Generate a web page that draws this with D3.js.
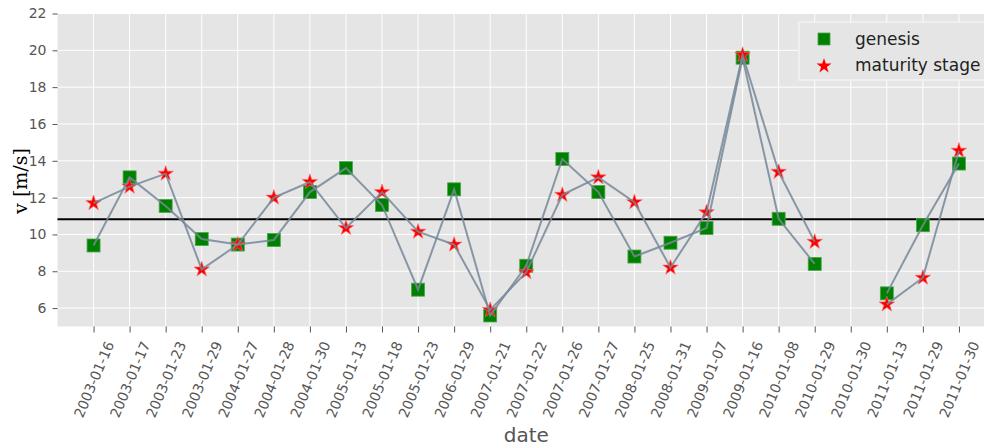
<!DOCTYPE html>
<html>
<head>
<meta charset="utf-8">
<script src="https://cdnjs.cloudflare.com/ajax/libs/d3/7.8.5/d3.min.js"></script>
<style>
  body { margin: 0; background: #fff; }
  text { font-family: "DejaVu Sans", sans-serif; }
</style>
</head>
<body>
<div class="chart"></div>
<script>
var dates = ["2003-01-16", "2003-01-17", "2003-01-23", "2003-01-29", "2004-01-27", "2004-01-28",
  "2004-01-30", "2005-01-13", "2005-01-18", "2005-01-23", "2006-01-29", "2007-01-21",
  "2007-01-22", "2007-01-26", "2007-01-27", "2008-01-25", "2008-01-31", "2009-01-07",
  "2009-01-16", "2010-01-08", "2010-01-29", "2010-01-30", "2011-01-13", "2011-01-29", "2011-01-30"];

var genesis = [9.4, 13.1, 11.55, 9.75, 9.45, 9.7, 12.3, 13.6, 11.6, 7.0, 12.45, 5.6,
  8.3, 14.1, 12.3, 8.8, 9.55, 10.35, 19.6, 10.85, 8.4, null, 6.8, 10.5, 13.85];

var maturity = [11.7, 12.6, 13.3, 8.1, 9.45, 12.0, 12.85, 10.35, 12.3, 10.15, 9.45, 5.9,
  7.95, 12.15, 13.1, 11.75, 8.2, 11.2, 19.75, 13.4, 9.6, null, 6.2, 7.65, 14.55];

var meanLine = 10.82;
var yTicks = [6, 8, 10, 12, 14, 16, 18, 20, 22];

var width = 984, height = 447;
var plot = {left: 57.5, right: 995, top: 13.5, bottom: 326.5};

var svg = d3.select(".chart")
    .append("svg")
    .attr("width", width)
    .attr("height", height);

var x = d3.scaleLinear().domain([-1, dates.length]).range([plot.left, plot.right]);
var y = d3.scaleLinear().domain([5, 22]).range([plot.bottom, plot.top]);

function points(series) {
  return series.map(function(v, i){return {i: i, v: v}})
    .filter(function(d){return d.v !== null});
}

// background
svg.append("rect")
  .attr("x", plot.left).attr("y", plot.top)
  .attr("width", plot.right - plot.left).attr("height", plot.bottom - plot.top)
  .attr("fill", "#e5e5e5");

// grid
svg.append("g").selectAll("line").data(yTicks).enter().append("line")
  .attr("x1", plot.left).attr("x2", plot.right)
  .attr("y1", function(d){return y(d)}).attr("y2", function(d){return y(d)})
  .attr("stroke", "#fff").attr("stroke-width", 1);

svg.append("g").selectAll("line").data(dates).enter().append("line")
  .attr("x1", function(d, i){return x(i)}).attr("x2", function(d, i){return x(i)})
  .attr("y1", plot.top).attr("y2", plot.bottom)
  .attr("stroke", "#fff").attr("stroke-width", 1);

// y axis
var yAxis = svg.append("g")
  .attr("transform", "translate(" + plot.left + ",0)")
  .call(d3.axisLeft(y).tickValues(yTicks).tickSize(5).tickPadding(6));
yAxis.select(".domain").remove();
yAxis.selectAll(".tick line").attr("stroke", "#555");
yAxis.selectAll("text").attr("fill", "#555").style("font-size", "14px")
  .style("font-family", "DejaVu Sans");

// x axis
var xAxis = svg.append("g")
  .attr("transform", "translate(0," + plot.bottom + ")")
  .call(d3.axisBottom(x).tickValues(d3.range(dates.length)).tickSize(6)
    .tickFormat(function(i){return dates[i]}));
xAxis.select(".domain").remove();
xAxis.selectAll(".tick line").attr("stroke", "#555");
xAxis.selectAll("text")
  .attr("fill", "#555").style("font-size", "14px").style("font-family", "DejaVu Sans")
  .attr("text-anchor", "middle")
  .attr("dy", "0.35em")
  .attr("y", 53)
  .attr("transform", "rotate(-67,0,53)");

// axis titles
svg.append("text")
  .attr("x", (plot.left + plot.right) / 2).attr("y", 442)
  .attr("text-anchor", "middle")
  .attr("fill", "#555").style("font-size", "20px")
  .text("date");

svg.append("text")
  .attr("transform", "translate(27,181) rotate(-90)")
  .attr("text-anchor", "middle")
  .style("font-family", "DejaVu Serif").style("font-size", "19px")
  .attr("fill", "#000")
  .text("v [m/s]");

// mean line
svg.append("line")
  .attr("x1", plot.left).attr("x2", plot.right)
  .attr("y1", y(meanLine)).attr("y2", y(meanLine))
  .attr("stroke", "#000").attr("stroke-width", 2);

// markers
var star = d3.symbol().type(d3.symbolStar).size(75);

svg.append("g").selectAll("rect").data(points(genesis)).enter()
  .append("rect")
  .attr("x", function(d){return x(d.i) - 6.5})
  .attr("y", function(d){return y(d.v) - 6.5})
  .attr("width", 13).attr("height", 13)
  .attr("fill", "#008000").attr("stroke", "#4ca64c").attr("stroke-width", 0.8);

svg.append("g").selectAll("path").data(points(maturity)).enter()
  .append("path")
  .attr("d", star)
  .attr("transform", function(d){return "translate(" + x(d.i) + "," + y(d.v) + ")"})
  .attr("fill", "#ff0000").attr("stroke", "#ff7070").attr("stroke-width", 0.6);

// connecting lines
var line = d3.line()
  .defined(function(d){return d !== null})
  .x(function(d, i){return x(i)})
  .y(function(d){return y(d)});

[genesis, maturity].forEach(function(series){
  svg.append("path")
    .datum(series)
    .attr("fill", "none")
    .attr("stroke", "#778899")
    .attr("stroke-opacity", 0.85)
    .attr("stroke-width", 2)
    .attr("d", line);
});

// legend
var legend = svg.append("g").attr("transform", "translate(799,22)");
legend.append("rect")
  .attr("width", 200).attr("height", 58)
  .attr("fill", "#e5e5e5").attr("stroke", "#f2f2f2").attr("stroke-width", 1.5);
legend.append("rect")
  .attr("x", 19).attr("y", 11).attr("width", 12).attr("height", 12)
  .attr("fill", "#008000").attr("stroke", "#4ca64c").attr("stroke-width", 0.8);
legend.append("path")
  .attr("d", d3.symbol().type(d3.symbolStar).size(70))
  .attr("transform", "translate(25,44)")
  .attr("fill", "#ff0000");
legend.append("text").attr("x", 56).attr("y", 23)
  .attr("fill", "#222").style("font-size", "17px").text("genesis");
legend.append("text").attr("x", 56).attr("y", 49)
  .attr("fill", "#222").style("font-size", "17px").text("maturity stage");
</script>
</body>
</html>
